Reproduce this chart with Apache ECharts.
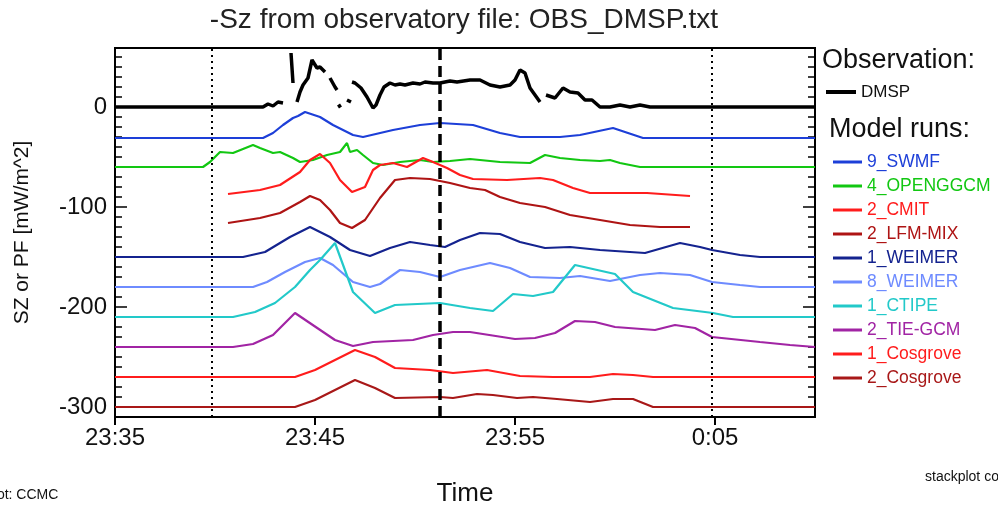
<!DOCTYPE html>
<html>
<head>
<meta charset="utf-8">
<script src="https://cdn.jsdelivr.net/npm/echarts@6/dist/echarts.min.js"></script>
<style>
html, body { margin: 0; padding: 0; background: #fff; }
#chart { width: 998px; height: 509px; }
</style>
</head>
<body>
<div id="chart"></div>
<script>
// time is minutes after 23:35
var obsName = 'DMSP';
var obsT = [0, 7.4, 7.65, 7.9, 8.15, 8.4, null, 8.8, 8.9, null, 9.1, 9.25, 9.4, 9.65, 9.85, 10.1, 10.25, 10.5, null, 10.75, 11.0, 11.1, null, 11.15, 11.3, null, 11.6, 11.8, null,
    11.85, 12.0, 12.3, 12.6, 12.9, 13.05, 13.25, 13.45, 13.75, 14.0, 14.25, 14.5, 14.9, 15.25, 15.5, 15.9, 16.25, 16.75, 17.1, 17.75, 18.25, 18.75,
    19.25, 19.75, 20.0, 20.25, 20.5, 20.75, 21.0, 21.25, null, 21.55, 22.0, 22.4, 22.75, 23.15, 23.5, 23.85, 24.25, 24.75, 25.25, 25.75, 26.25, 26.75, 27.5, 35];
var obsV = [0, 0, 3, 1, 5, 4, null, 54, 24, null, 5, 15, 22, 29, 47, 39, 40, 35, null, 29, 20, 17, null, 0, 2, null, 7, 5, null,
    25, 24, 19, 10, -1, 2, 12, 20, 24, 22, 23, 22, 24, 23, 25, 24, 24, 26, 25, 27, 27, 22,
    20, 22, 27, 37, 34, 19, 12, 5, null, 12, 9, 19, 15, 14, 7, 7, 0, 0, 2, 0, 2, 0, 0, 0];

var runNames = ['9_SWMF', '4_OPENGGCM', '2_CMIT', '2_LFM-MIX', '1_WEIMER', '8_WEIMER', '1_CTIPE', '2_TIE-GCM', '1_Cosgrove', '2_Cosgrove'];
var runColors = ['#1d3fd8', '#12c712', '#ff1c1c', '#ae1414', '#14238f', '#6e8bff', '#22c9c9', '#a124a4', '#ff1c1c', '#a81818'];

var swmfT = [0, 7.4, 7.9, 8.4, 8.9, 9.15, 9.5, 10.25, 10.9, 11.9, 12.4, 13.9, 15.25, 16.25, 17.9, 19.25, 20.25, 22.25, 23.25, 24.9, 26.4, 35];
var swmfV = [-31, -31, -26, -18, -11, -9, -5, -10, -18, -28, -30, -23, -18, -16, -18, -26, -30, -30, -28, -21, -31, -31];

var oggcmT = [0, 4.4, 4.75, 5.25, 5.9, 6.9, 7.25, 7.9, 8.25, 8.9, 9.25, 9.9, 10.6, 11.25, 11.6, 11.75, 12.1, 12.4, 12.9, 13.4, 14.25, 15.25, 15.9,
    16.75, 17.75, 19.25, 20.75, 21.5, 22.25, 23.25, 24.25, 24.75, 25.25, 26.25, 35];
var oggcmV = [-60, -60, -55, -45, -46, -38, -41, -46, -45, -51, -55, -53, -48, -45, -36, -45, -43, -48, -56, -58, -55, -53, -55,
    -54, -52, -55, -56, -48, -51, -53, -54, -53, -56, -60, -60];

var cmitT = [5.65, 7.25, 8.25, 9.25, 9.75, 10.25, 10.75, 11.25, 11.85, 12.5, 12.9, 13.25, 13.9, 14.6, 15.4, 15.9, 16.6, 17.25, 17.9, 19.6, 21.25, 21.9, 22.9, 23.75, 26.6, 28.75];
var cmitV = [-87, -83, -78, -65, -53, -47, -56, -73, -85, -80, -63, -58, -56, -60, -51, -55, -61, -68, -72, -73, -71, -73, -81, -86, -86, -89];

var lfmT = [5.65, 7.25, 8.25, 9.25, 9.75, 10.25, 10.75, 11.25, 11.85, 12.5, 13.25, 14.0, 14.75, 15.75, 16.75, 17.75, 18.5, 19.25, 20.25, 21.5, 22.75, 24.25, 25.75, 27.25, 28.75];
var lfmV = [-116, -111, -106, -95, -89, -93, -103, -116, -121, -113, -91, -73, -71, -72, -76, -81, -83, -90, -96, -100, -108, -113, -118, -120, -120];

var weimer1T = [0, 6.4, 7.5, 8.75, 9.75, 10.75, 11.75, 12.75, 13.75, 14.75, 15.75, 16.5, 17.25, 18.25, 19.25, 20.25, 21.5, 22.75, 24.25, 26.5, 28.25, 29.25, 29.85, 31.25, 32.25, 35];
var weimer1V = [-150, -150, -145, -130, -120, -130, -143, -149, -141, -135, -138, -140, -133, -126, -127, -135, -141, -140, -143, -146, -136, -140, -143, -148, -150, -150];

var weimer8T = [0, 6.9, 7.6, 8.5, 9.5, 10.25, 10.9, 11.9, 12.75, 13.25, 14.25, 15.25, 16.25, 17.25, 18.75, 19.75, 20.75, 22.25, 23.25, 24.75, 26.25, 27.25, 28.75, 29.85, 31.25, 32.25, 35];
var weimer8V = [-180, -180, -175, -165, -155, -151, -158, -175, -180, -177, -163, -165, -170, -163, -156, -161, -170, -171, -169, -174, -168, -166, -168, -175, -178, -180, -180];

var ctipeT = [0, 5.9, 7.0, 8.0, 9.0, 9.75, 10.25, 11.0, 11.9, 13.0, 14.0, 16.25, 17.75, 18.9, 19.9, 20.9, 21.9, 23.0, 25.0, 25.9, 27.9, 29.9, 30.9, 35];
var ctipeV = [-210, -210, -205, -196, -180, -163, -153, -136, -185, -206, -198, -196, -201, -204, -187, -189, -185, -158, -167, -185, -201, -206, -210, -210];

var tiegcmT = [0, 5.9, 6.9, 7.9, 9.0, 11.0, 11.9, 12.9, 14.9, 15.9, 16.9, 17.75, 20.0, 21.0, 22.0, 23.0, 24.0, 25.0, 27.0, 28.0, 29.0, 29.85, 32.25, 33.75, 35];
var tiegcmV = [-240, -240, -237, -228, -206, -233, -239, -235, -233, -228, -225, -225, -232, -231, -226, -214, -215, -220, -223, -218, -221, -230, -235, -238, -240];

var cos1T = [0, 9.0, 10.0, 11.0, 12.0, 13.0, 14.0, 15.75, 16.9, 18.6, 20.25, 21.9, 23.75, 24.9, 25.9, 26.9, 35];
var cos1V = [-270, -270, -263, -253, -243, -250, -261, -263, -266, -263, -269, -270, -270, -267, -268, -270, -270];

var cos2T = [0, 9.0, 10.0, 11.0, 12.0, 13.0, 14.0, 16.25, 16.9, 18.1, 18.9, 20.1, 20.9, 22.1, 23.75, 24.9, 25.9, 26.9, 35];
var cos2V = [-300, -300, -293, -283, -273, -281, -291, -290, -291, -287, -288, -291, -290, -292, -295, -292, -292, -300, -300];

var runT = [swmfT, oggcmT, cmitT, lfmT, weimer1T, weimer8T, ctipeT, tiegcmT, cos1T, cos2T];
var runV = [swmfV, oggcmV, cmitV, lfmV, weimer1V, weimer8V, ctipeV, tiegcmV, cos1V, cos2V];

var yLabels = [0, -100, -200, -300];
var dottedTimes = [4.85, 29.85];
var dashedTime = 16.25;

var font = '"Liberation Sans", Helvetica, Arial, sans-serif';

function pairs(t, v) {
    var out = [];
    for (var i = 0; i < t.length; i++) {
        out.push(t[i] === null ? [null, null] : [t[i], v[i]]);
    }
    return out;
}
function clock(m) {
    var tot = 23 * 60 + 35 + m;
    var h = Math.floor(tot / 60) % 24, mm = tot % 60;
    return h + ':' + (mm < 10 ? '0' : '') + mm;
}

var minorTicks = [];
for (var v = -310; v <= 50; v += 10) minorTicks.push(v);

function yAx(pos, vals, len, withLabel) {
    return {
        type: 'value', position: pos, min: -310, max: 59,
        axisLine: {show: false, onZero: false},
        splitLine: {show: false},
        axisTick: {show: true, inside: true, length: len, customValues: vals, lineStyle: {color: '#000', width: 1.5}},
        axisLabel: withLabel ? {customValues: yLabels, fontSize: 24, color: '#111', fontFamily: font, margin: 8} : {show: false},
        name: withLabel ? 'SZ or PF [mW/m^2]' : '',
        nameLocation: 'middle', nameGap: 82, nameRotate: 90,
        nameTextStyle: {fontSize: 21, color: '#111', fontFamily: font}
    };
}

var myChart = echarts.init(document.getElementById('chart'));

var series = [{
    name: obsName, type: 'line', data: pairs(obsT, obsV), showSymbol: false,
    connectNulls: false, z: 5,
    lineStyle: {color: '#000', width: 3.5}, itemStyle: {color: '#000'},
    markLine: {
        silent: true, symbol: 'none', label: {show: false},
        data: [
            {xAxis: dottedTimes[0], lineStyle: {type: [2, 4], width: 2, color: '#000'}},
            {xAxis: dottedTimes[1], lineStyle: {type: [2, 4], width: 2, color: '#000'}},
            {xAxis: dashedTime, lineStyle: {type: [11, 6], width: 3.5, color: '#000'}}
        ]
    }
}];
runNames.forEach(function (n, i) {
    series.push({
        name: n, type: 'line', data: pairs(runT[i], runV[i]), showSymbol: false,
        lineStyle: {color: runColors[i], width: 2.2}, itemStyle: {color: runColors[i]}
    });
});

var option = {
    animation: false,
    backgroundColor: '#fff',
    grid: {left: 115, right: 183, top: 48, bottom: 92, show: true, borderColor: '#000', borderWidth: 2,
        containLabel: false, outerBoundsMode: 'none'},
    xAxis: {
        type: 'value', min: 0, max: 35, interval: 10,
        axisLine: {show: false, onZero: false}, splitLine: {show: false},
        axisTick: {show: true, inside: false, length: 8, lineStyle: {color: '#000', width: 2}},
        axisLabel: {formatter: clock, fontSize: 24, color: '#111', fontFamily: font, margin: 9, showMaxLabel: false},
        name: 'Time', nameLocation: 'middle', nameGap: 64,
        nameTextStyle: {fontSize: 26, color: '#111', fontFamily: font}
    },
    yAxis: [
        yAx('left', yLabels, 12, true),
        yAx('left', minorTicks, 7, false),
        yAx('right', yLabels, 12, false),
        yAx('right', minorTicks, 7, false)
    ],
    legend: [{
        data: [obsName], left: 821, top: 78, orient: 'vertical',
        icon: 'rect', itemWidth: 30, itemHeight: 4, itemGap: 0,
        textStyle: {fontSize: 17, lineHeight: 18, color: '#111', fontFamily: font}
    }, {
        data: runNames.map(function (n, i) { return {name: n, textStyle: {color: runColors[i]}}; }),
        left: 828, top: 147, orient: 'vertical', itemGap: 4,
        icon: 'rect', itemWidth: 29, itemHeight: 3,
        textStyle: {fontSize: 17.5, lineHeight: 20, fontFamily: font}
    }],
    graphic: [
        {type: 'text', x: 464, y: 20, style: {text: '-Sz from observatory file: OBS_DMSP.txt', font: '28px ' + font, fill: '#222', align: 'center', verticalAlign: 'middle'}},
        {type: 'text', x: 822, y: 61, style: {text: 'Observation:', font: '27px ' + font, fill: '#111', verticalAlign: 'middle'}},
        {type: 'text', x: 829, y: 130, style: {text: 'Model runs:', font: '27px ' + font, fill: '#111', verticalAlign: 'middle'}},
        {type: 'text', x: -14, y: 495, style: {text: 'plot: CCMC', font: '14px ' + font, fill: '#111', verticalAlign: 'middle'}},
        {type: 'text', x: 925, y: 477, style: {text: 'stackplot code', font: '14px ' + font, fill: '#111', verticalAlign: 'middle'}}
    ],
    series: series
};

myChart.setOption(option);
</script>
</body>
</html>
